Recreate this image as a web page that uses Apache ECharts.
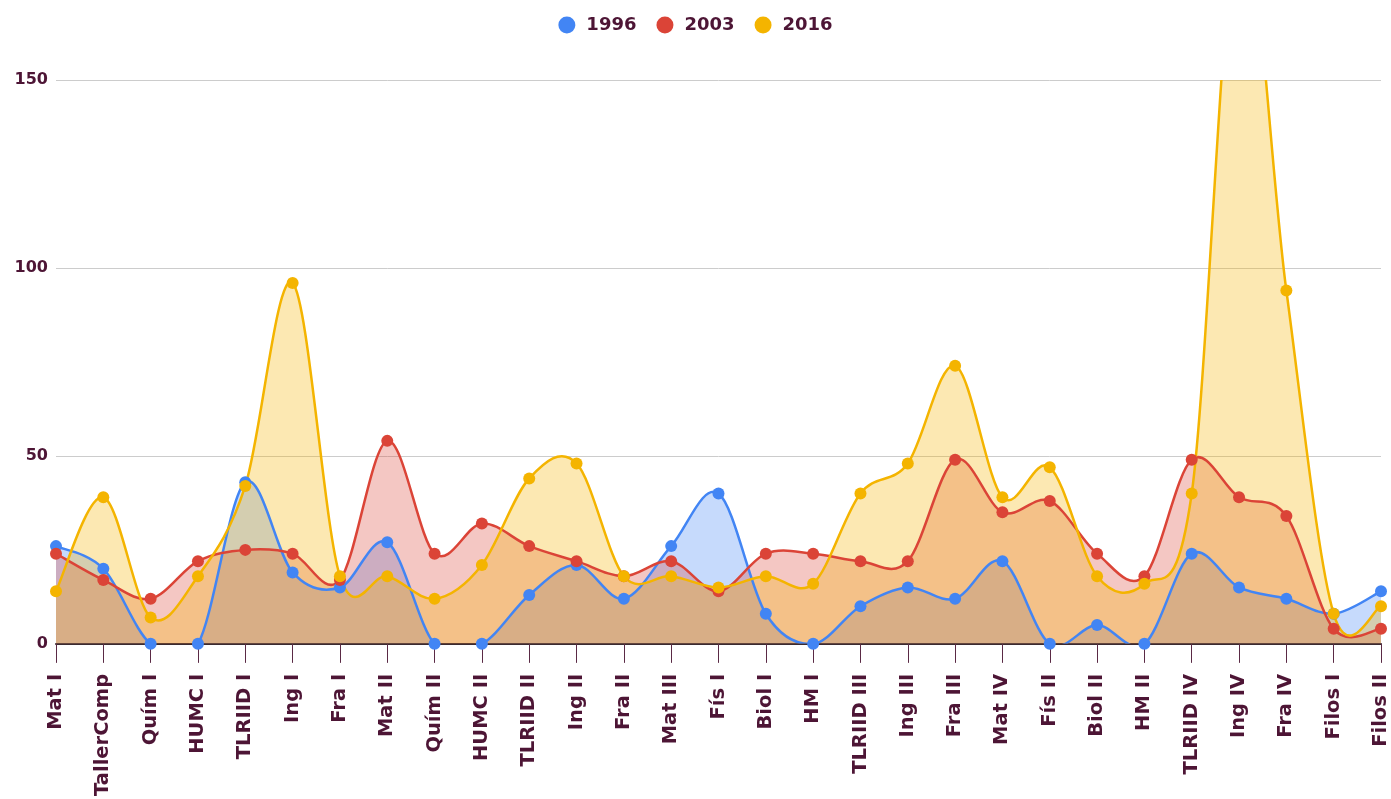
<!DOCTYPE html>
<html>
<head>
<meta charset="utf-8">
<script src="https://cdn.jsdelivr.net/npm/echarts@6/dist/echarts.min.js"></script>
<style>
html,body{margin:0;padding:0;background:#fff;}
#c{width:1391px;height:799px;}
</style>
</head>
<body>
<div id="c"></div>
<script>
const categories = ['Mat I','TallerComp','Quím I','HUMC I','TLRIID I','Ing I','Fra I','Mat II','Quím II','HUMC II','TLRIID II','Ing II','Fra II','Mat III','Fís I','Biol I','HM I','TLRIID III','Ing III','Fra III','Mat IV','Fís II','Biol II','HM II','TLRIID IV','Ing IV','Fra IV','Filos I','Filos II'];
const s1996 = [26,20,0,0,43,19,15,27,0,0,13,21,12,26,40,8,0,10,15,12,22,0,5,0,24,15,12,8,14];
const s2003 = [24,17,12,22,25,24,17,54,24,32,26,22,18,22,14,24,24,22,22,49,35,38,24,18,49,39,34,4,4];
const s2016 = [14,39,7,18,42,96,18,18,12,21,44,48,18,18,15,18,16,40,48,74,39,47,18,16,40,195,94,8,10];
const yTicks = {min:0, max:150, interval:50};

const txt = '#4d1535';
const font = "'DejaVu Sans', Verdana, sans-serif";

// smooth curve (Catmull-Rom) through points placed by the axes; mode = 'area' or 'line'
function curveSeries(name, arr, color, mode){
  return {
    name, type:'custom', coordinateSystem:'cartesian2d', clip:true,
    data: arr.map((v,i)=>[i,v]),
    encode:{x:0, y:1},
    itemStyle:{color},
    silent:true,
    renderItem(params, api){
      if (params.dataIndex !== 0) return null;
      const pts = arr.map((v,i)=>api.coord([i,v]));
      const base = api.coord([0,0])[1];
      let d = 'M' + pts[0][0] + ',' + pts[0][1];
      for (let i=0;i<pts.length-1;i++){
        const p0 = pts[i-1] || pts[i];
        const p1 = pts[i];
        const p2 = pts[i+1];
        const p3 = pts[i+2] || pts[i+1];
        const c1x = p1[0] + (p2[0]-p0[0])/6, c1y = p1[1] + (p2[1]-p0[1])/6;
        const c2x = p2[0] - (p3[0]-p1[0])/6, c2y = p2[1] - (p3[1]-p1[1])/6;
        d += ' C' + c1x + ',' + c1y + ' ' + c2x + ',' + c2y + ' ' + p2[0] + ',' + p2[1];
      }
      const last = pts[pts.length-1];
      const cs = params.coordSys;
      let child;
      if (mode === 'area') {
        const area = 'M' + pts[0][0] + ',' + base + ' L' + d.slice(1) + ' L' + last[0] + ',' + base + ' Z';
        child = {type:'path', shape:{pathData:area}, style:{fill:color, opacity:0.3, stroke:null}};
      } else {
        child = {type:'path', shape:{pathData:d}, style:{fill:null, stroke:color, lineWidth:2.5}};
      }
      return {
        type:'group',
        clipPath:{type:'rect', shape:{x:cs.x, y:cs.y, width:cs.width, height:cs.height}},
        children:[child]
      };
    }
  };
}
function dotSeries(name, arr, color){
  return {
    name, type:'scatter', data:arr, symbol:'circle', symbolSize:12,
    itemStyle:{color, opacity:1}, emphasis:{disabled:true}
  };
}
const years = [['1996', s1996, '#4285F4'], ['2003', s2003, '#DB4437'], ['2016', s2016, '#F4B400']];
const series = [];
years.forEach(y => series.push(curveSeries(y[0], y[1], y[2], 'area')));
years.forEach(y => series.push(curveSeries(y[0], y[1], y[2], 'line')));
years.forEach(y => series.push(dotSeries(y[0], y[1], y[2])));

const chart = echarts.init(document.getElementById('c'), null, {renderer:'canvas', devicePixelRatio:1});
chart.setOption({
  animation:false,
  backgroundColor:'#fff',
  legend:{
    top:11, left:'center', icon:'circle', itemWidth:17, itemHeight:17, itemGap:20,
    textStyle:{fontFamily:font, fontWeight:'bold', fontSize:18, color:txt, padding:[0,0,0,6]},
    data:['1996','2003','2016']
  },
  grid:{left:56, right:7, top:80, bottom:154, containLabel:false},
  xAxis:{
    type:'category', data:categories, boundaryGap:false,
    axisLine:{lineStyle:{color:'#3a2a30', width:2}},
    axisTick:{interval:0, length:19, lineStyle:{color:'#5a2a45', width:1}},
    axisLabel:{interval:0, rotate:90, margin:30, fontFamily:font, fontWeight:'bold', fontSize:19.5, color:txt},
    splitLine:{show:false}
  },
  yAxis:{
    type:'value', min:yTicks.min, max:yTicks.max, interval:yTicks.interval,
    axisLine:{show:false}, axisTick:{show:false},
    axisLabel:{margin:8, fontFamily:font, fontWeight:'bold', fontSize:16, color:txt},
    splitLine:{lineStyle:{color:'#cccccc', width:1}}
  },
  series
});
</script>
</body>
</html>
